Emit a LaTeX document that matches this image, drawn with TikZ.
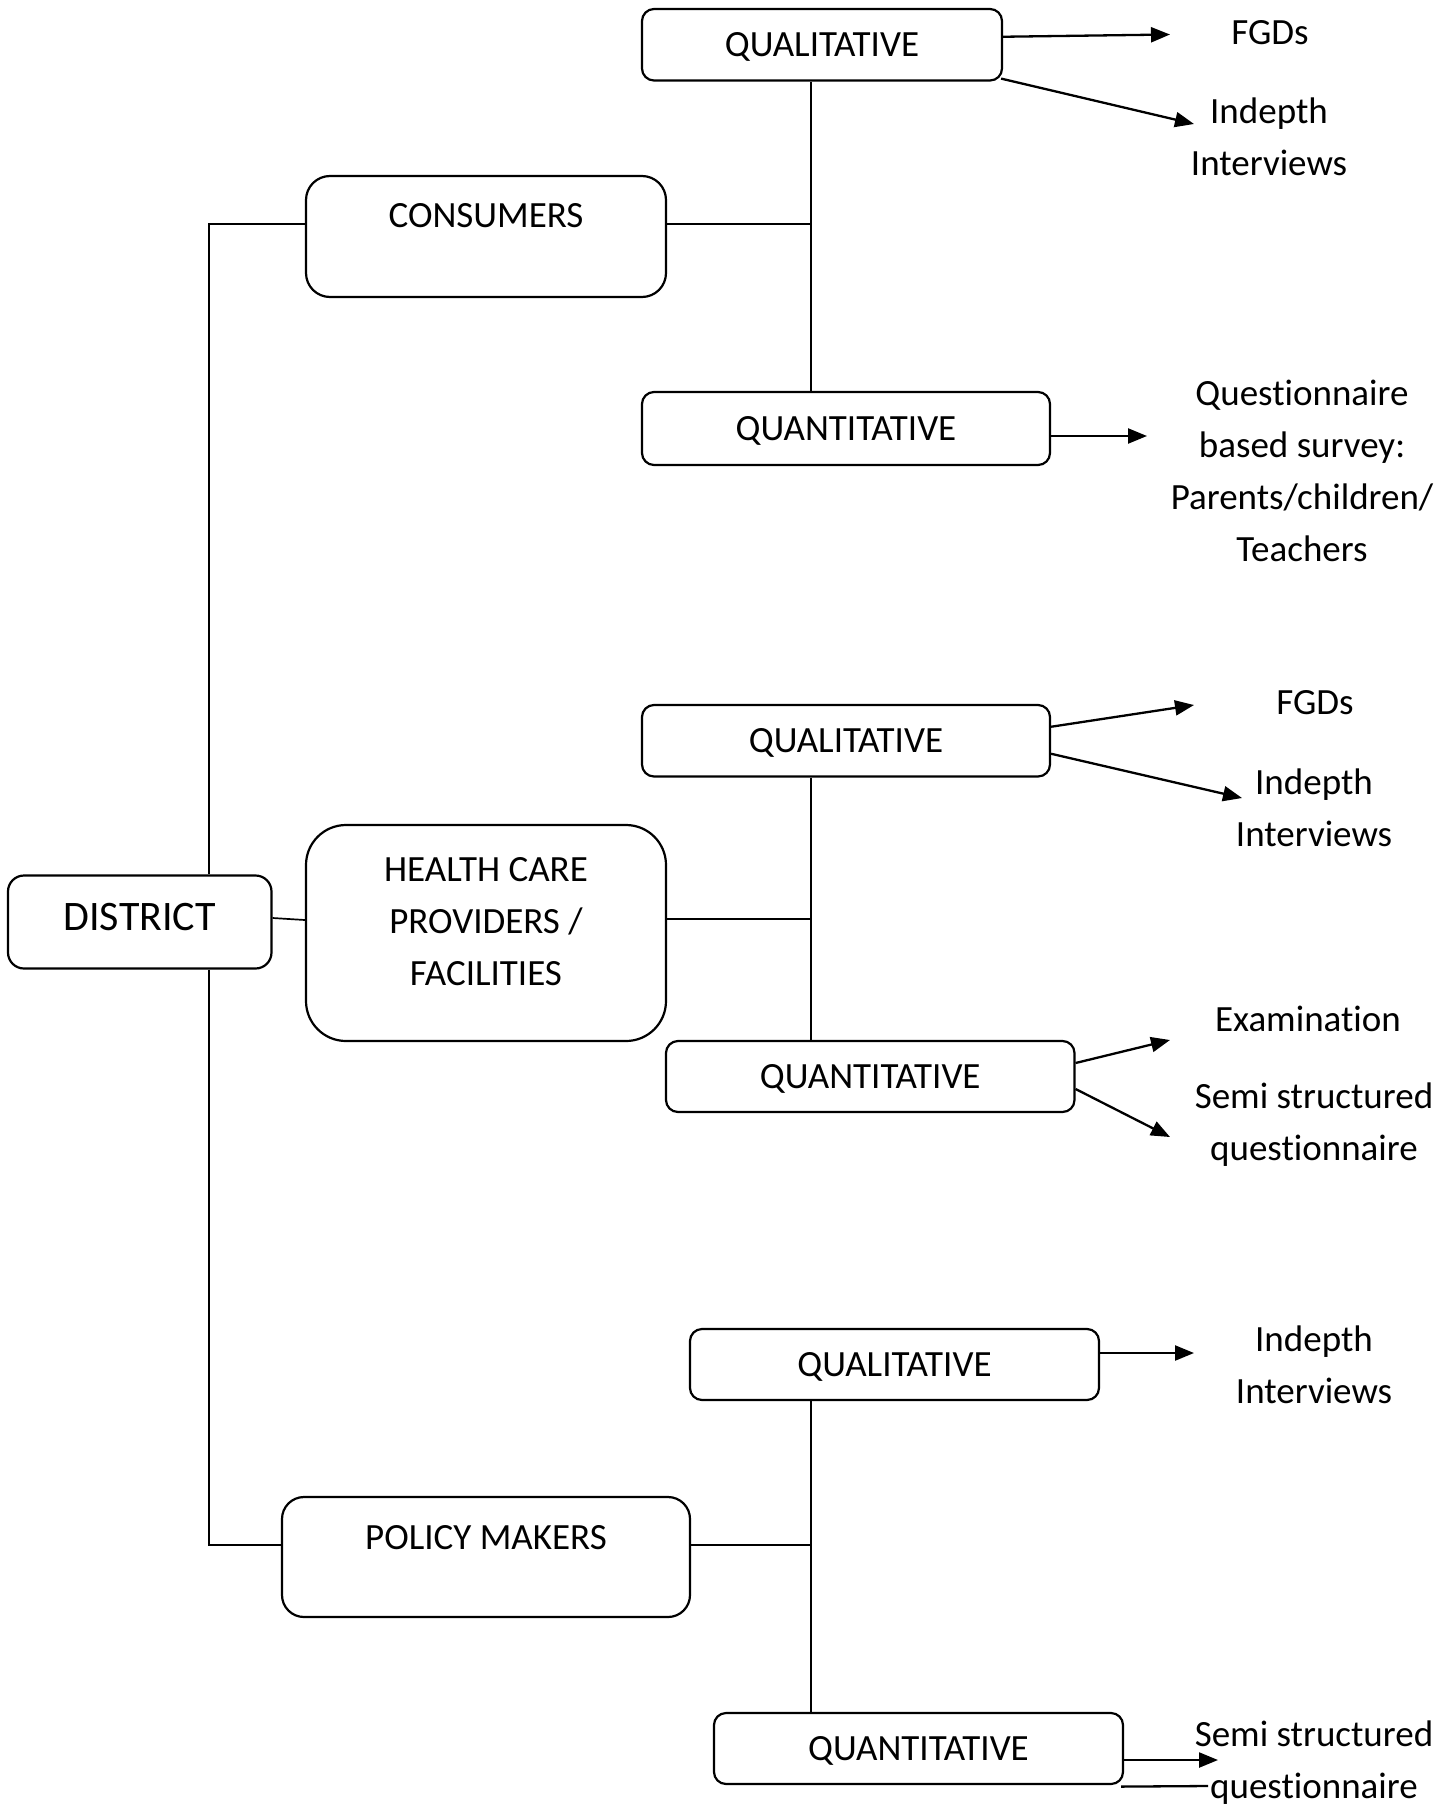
\documentclass[tikz,border=0pt]{standalone}
\usepackage{fontspec}
\setmainfont{Carlito}[Ligatures={NoCommon}]
\usetikzlibrary{arrows.meta,calc}
\begin{document}
\begin{tikzpicture}[x=1pt,y=-1pt,
  box/.style={draw, line width=2.2pt, rounded corners=12pt, inner sep=0pt, text depth=0pt, font=\fontsize{37}{52}\selectfont},
  txt/.style={align=center, inner sep=0pt, font=\fontsize{37}{52}\selectfont},
  conn/.style={line width=1.7pt},
  arr/.style={line width=2.3pt, -{Triangle[length=19pt,width=15pt]}},
  plainline/.style={line width=2.3pt}]
\useasboundingbox (0,0) rectangle (1438,1804);

% boxes
\node[box, rounded corners=16pt, minimum width=263.5pt, minimum height=93pt, text depth=10pt, font=\fontsize{42}{50}\selectfont] (dist) at (139.75,922) {DISTRICT};
\node[box, rounded corners=24pt, minimum width=360pt, minimum height=121pt] (cons) at (486,236.5) {};
\node[box, rounded corners=40pt, minimum width=360pt, minimum height=216pt] (hc) at (486,933) {};
\node[box, rounded corners=22pt, minimum width=408pt, minimum height=120pt] (pol) at (486,1557) {};
\node[txt] (tcons) at (486,216) {CONSUMERS};
\node[txt] (thc) at (486,921.5) {HEALTH CARE\\PROVIDERS /\\FACILITIES};
\node[txt] (tpol) at (486,1538) {POLICY MAKERS};

\node[box, minimum width=360pt, minimum height=71.5pt] (q1) at (822,44.75) {QUALITATIVE};
\node[box, minimum width=408pt, minimum height=73pt] (n1) at (846,428.5) {QUANTITATIVE};
\node[box, minimum width=408pt, minimum height=71.5pt] (q2) at (846,740.75) {QUALITATIVE};
\node[box, minimum width=408.5pt, minimum height=71pt] (n2) at (870.25,1076.5) {QUANTITATIVE};
\node[box, minimum width=409pt, minimum height=71pt] (q3) at (894.5,1364.5) {QUALITATIVE};
\node[box, minimum width=409pt, minimum height=71pt] (n3) at (918.5,1748.5) {QUANTITATIVE};

% junction coordinates
\coordinate (t1) at (209,224);
\coordinate (t3) at (209,1545);
\coordinate (j1) at (811,224);
\coordinate (j2) at (811,919);
\coordinate (j3) at (811,1545);

% tree connectors
\draw[conn] (cons.west |- t1) -- (t1) -- (t1 |- dist.north);
\draw[conn] (dist.south -| t3) -- (t3) -- (pol.west |- t3);
\draw[conn] ($(dist.east)+(0,-4)$) -- ($(hc.west)+(0,-13)$);
\draw[conn] (cons.east |- j1) -- (j1);
\draw[conn] (q1.south -| j1) -- (n1.north -| j1);
\draw[conn] (hc.east |- j2) -- (j2);
\draw[conn] (q2.south -| j2) -- (n2.north -| j2);
\draw[conn] (pol.east |- j3) -- (j3);
\draw[conn] (q3.south -| j3) -- (n3.north -| j3);

% right-hand labels
\node[txt] (fgd1) at (1270,33) {FGDs};
\node[txt] (ind1) at (1269,137) {Indepth\\Interviews};
\node[txt] (qs) at (1302,470.5) {Questionnaire\\based survey:\\Parents/children/\\Teachers};
\node[txt] (fgd2) at (1315,703) {FGDs};
\node[txt] (ind2) at (1314,807.5) {Indepth\\Interviews};
\node[txt] (exam) at (1308,1019) {Examination};
\node[txt] (semi2) at (1314,1125) {Semi structured\\questionnaire};
\node[txt] (ind3) at (1314,1365) {Indepth\\Interviews};
\node[txt] (semi3) at (1314,1762.5) {Semi structured\\questionnaire};

% arrow end points
\coordinate (e1) at (1170,34.5);
\coordinate (e2) at (1194,124);
\coordinate (e3) at (1147,436);
\coordinate (e4) at (1194,705);
\coordinate (e5) at (1242,798);
\coordinate (e6) at (1170,1040);
\coordinate (e7) at (1170,1137);
\coordinate (e8) at (1194,1353);
\coordinate (e9) at (1218,1760);
\coordinate (e10) at (1208,1786);

% arrows
\draw[arr] ($(q1.east)+(0,-8)$) -- (e1);
\draw[arr] ($(q1.south east)+(-2,-3)$) -- (e2);
\draw[arr] ($(n1.east)+(0,7.5)$) -- (e3);
\draw[arr] ($(q2.east)+(0,-14)$) -- (e4);
\draw[arr] ($(q2.east)+(0,13)$) -- (e5);
\draw[arr] ($(n2.east)+(0,-13.5)$) -- (e6);
\draw[arr] ($(n2.east)+(0,12.5)$) -- (e7);
\draw[arr] ($(q3.east)+(0,-11.5)$) -- (e8);
\draw[arr] ($(n3.east)+(0,11.5)$) -- (e9);
\draw[plainline] ($(n3.south east)+(-3,1.5)$) -- (e10);
\end{tikzpicture}
\end{document}
